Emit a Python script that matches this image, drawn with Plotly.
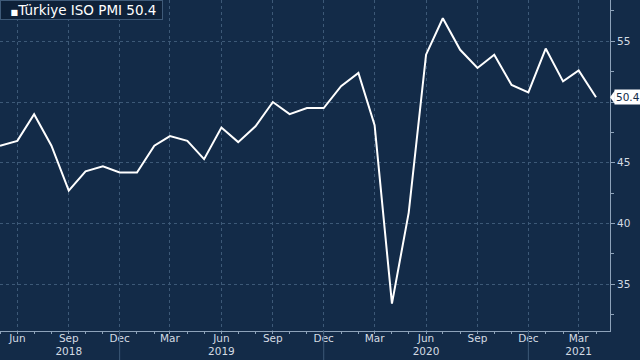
import plotly.graph_objects as go

months = ["2018-05-01","2018-06-01","2018-07-01","2018-08-01","2018-09-01","2018-10-01","2018-11-01","2018-12-01",
          "2019-01-01","2019-02-01","2019-03-01","2019-04-01","2019-05-01","2019-06-01","2019-07-01","2019-08-01",
          "2019-09-01","2019-10-01","2019-11-01","2019-12-01","2020-01-01","2020-02-01","2020-03-01","2020-04-01",
          "2020-05-01","2020-06-01","2020-07-01","2020-08-01","2020-09-01","2020-10-01","2020-11-01","2020-12-01",
          "2021-01-01","2021-02-01","2021-03-01","2021-04-01"]
pmi = [46.4, 46.8, 49.0, 46.4, 42.7, 44.3, 44.7, 44.2,
       44.2, 46.4, 47.2, 46.8, 45.3, 47.9, 46.7, 48.0,
       50.0, 49.0, 49.5, 49.5, 51.3, 52.4, 48.1, 33.4,
       40.9, 53.9, 56.9, 54.3, 52.8, 53.9, 51.4, 50.8,
       54.4, 51.7, 52.6, 50.4]

tick_dates = ["2018-06-01","2018-09-01","2018-12-01","2019-03-01","2019-06-01","2019-09-01","2019-12-01",
              "2020-03-01","2020-06-01","2020-09-01","2020-12-01","2021-03-01"]
tick_labels = ["Jun","Sep<br>2018","Dec","Mar","Jun<br>2019","Sep","Dec",
               "Mar","Jun<br>2020","Sep","Dec","Mar<br>2021"]
year_breaks = ["2018-12-01","2019-12-01","2020-12-01"]
y_ticks = [35, 40, 45, 50, 55]
# the "50" label sits under the last-value tag in the reference
y_labels = ["35", "40", "45", "", "55"]

BG = "#132b48"
GRID = "#3d5977"
AX = "#8ea3ba"
TXT = "#d4dbe3"
FONT = "DejaVu Sans"

fig = go.Figure()
fig.add_trace(go.Scatter(x=months, y=pmi, mode="lines",
                         line=dict(color="white", width=2), showlegend=False))

fig.update_layout(
    width=640, height=360,
    margin=dict(l=0, r=30, t=0, b=29),
    paper_bgcolor=BG, plot_bgcolor=BG,
    font=dict(family=FONT, size=10.5, color=TXT),
)
fig.update_xaxes(
    type="date", range=["2018-05-01", "2021-04-26"],
    tickvals=tick_dates, ticktext=tick_labels,
    showgrid=True, gridcolor=GRID, gridwidth=1, griddash="dot",
    showline=True, linecolor=AX, linewidth=1,
    ticks="", tickfont=dict(size=10.5, color=TXT), ticklabelstandoff=-3,
    minor=dict(dtick="M1", ticks="outside", ticklen=2, tickcolor=AX, showgrid=False),
    zeroline=False, automargin=False,
)
fig.update_yaxes(
    side="right", range=[31.15, 58.4],
    tickvals=y_ticks, ticktext=y_labels,
    showgrid=True, gridcolor=GRID, gridwidth=1, griddash="dot",
    showline=True, linecolor=AX, linewidth=1,
    ticks="outside", ticklen=4, tickcolor=AX,
    tickfont=dict(size=10.5, color=TXT),
    minor=dict(dtick=2.5, tick0=32.5, ticks="outside", ticklen=3, tickcolor=AX, showgrid=False),
    zeroline=False, automargin=False,
)

for d in year_breaks:
    fig.add_shape(type="line", xref="x", yref="paper", x0=d, x1=d, y0=0, y1=-0.09,
                  line=dict(color=GRID, width=1))

fig.add_annotation(
    xref="paper", yref="paper", x=0, y=1, xanchor="left", yanchor="top",
    text="&nbsp;&nbsp;<span style='font-size:8px'>■</span>Türkiye ISO PMI 50.4&nbsp;",
    showarrow=False, align="left",
    font=dict(family=FONT, size=13.5, color="white"),
    bgcolor="#0e2139", bordercolor="#3f5a78", borderwidth=1, borderpad=1,
)
# pointer of the last-value tag
fig.add_shape(type="path", xref="paper", yref="y",
              path=f"M 1.0 {pmi[-1]} L 1.008 {pmi[-1] + 0.55} L 1.008 {pmi[-1] - 0.55} Z",
              fillcolor="white", line=dict(width=0))
fig.add_annotation(
    xref="paper", yref="y", x=1, y=pmi[-1], xanchor="left", yanchor="middle",
    xshift=4, text=f"{pmi[-1]}", showarrow=False,
    font=dict(family=FONT, size=10.5, color="#132b48"),
    bgcolor="white", borderpad=1,
)

fig.write_html("out.html", config={"displayModeBar": False},
               post_script="document.body.style.margin='0';document.body.style.overflow='hidden';")
